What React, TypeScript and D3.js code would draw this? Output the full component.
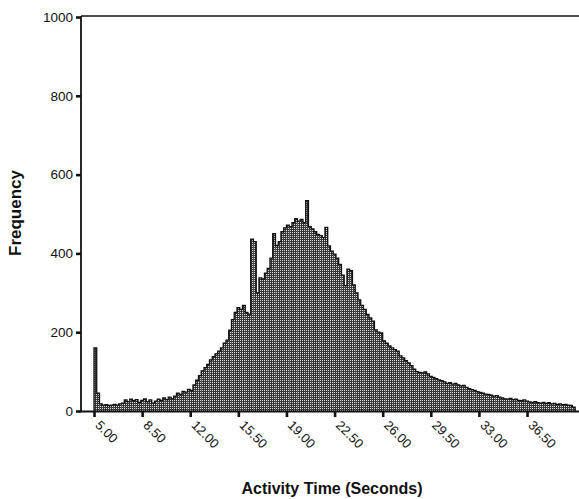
import { useEffect, useRef } from "react";
import * as d3 from "d3";

// histogram bins: 0.2 s wide, first bin starts at 5.0 s
const binStart = 5.0;
const binWidth = 0.2;
const frequencies = [
  160, 45, 18, 15, 16, 14, 15, 17, 15, 18,
  20, 28, 24, 30, 26, 29, 22, 27, 31, 24,
  28, 20, 25, 30, 27, 33, 29, 35, 31, 38,
  45, 42, 50, 48, 55, 52, 66, 78, 90, 102,
  110, 118, 130, 138, 145, 152, 160, 172, 180, 205,
  232, 250, 262, 258, 268, 250, 246, 436, 430, 300,
  338, 335, 350, 362, 388, 450, 420, 430, 455, 465,
  472, 468, 478, 488, 482, 486, 478, 534, 468, 462,
  455, 448, 445, 440, 466, 419, 406, 398, 388, 372,
  345, 318, 360, 356, 320, 300, 282, 268, 258, 245,
  236, 228, 206, 200, 198, 178, 172, 165, 160, 156,
  152, 140, 135, 128, 122, 115, 106, 100, 98, 97,
  99, 94, 88, 85, 82, 79, 77, 74, 70, 72,
  68, 70, 66, 64, 65, 60, 57, 54, 52, 49,
  47, 45, 43, 42, 40, 38, 39, 35, 33, 31,
  30, 32, 29, 30, 27, 26, 28, 25, 23, 22,
  24, 21, 20, 22, 19, 21, 18, 19, 17, 18,
  16, 17, 15, 14, 10,
];
const xTicks = [5.0, 8.5, 12.0, 15.5, 19.0, 22.5, 26.0, 29.5, 33.0, 36.5];
const yTicks = [0, 200, 400, 600, 800, 1000];

const W = 579;
const H = 499;
const FONT = "'Liberation Sans', Arial, sans-serif";

export default function App() {
  const svgRef = useRef<SVGSVGElement>(null);

  useEffect(() => {
    const svg = svgRef.current;
    if (!svg) return;
    const sel = d3.select(svg);
    sel.selectAll("*").remove();

    const left = 81;
    const top = 17;
    const bottom = 411;

    const x = d3.scaleLinear().domain([4.054, 40.28]).range([left, W]);
    const y = d3.scaleLinear().domain([0, 1000]).range([bottom, top]);

    const bins = frequencies.map((f, i) => ({
      x0: binStart + i * binWidth,
      x1: binStart + (i + 1) * binWidth,
      f,
    }));

    // halftone-ish fill
    const defs = sel.append("defs");
    const pat = defs
      .append("pattern")
      .attr("id", "stipple")
      .attr("width", 2)
      .attr("height", 2)
      .attr("patternUnits", "userSpaceOnUse");
    pat.append("rect").attr("width", 2).attr("height", 2).attr("fill", "#333");
    pat.append("rect").attr("width", 1).attr("height", 1).attr("fill", "#dcdcdc");

    // bars
    sel
      .append("g")
      .selectAll("rect")
      .data(bins)
      .enter()
      .append("rect")
      .attr("x", (d) => x(d.x0))
      .attr("width", (d) => x(d.x1) - x(d.x0) + 0.2)
      .attr("y", (d) => y(d.f))
      .attr("height", (d) => y(0) - y(d.f))
      .attr("fill", "url(#stipple)");

    // ragged outline of the bar tops
    const outline = d3
      .line<{ x0: number; x1: number; f: number }>()
      .x((d) => x(d.x0))
      .y((d) => y(d.f))
      .curve(d3.curveStepAfter);
    const last = bins[bins.length - 1];
    sel.append("path")
      .datum([{ x0: binStart, x1: binStart, f: 0 }, ...bins, { x0: last.x1, x1: last.x1, f: 0 }])
      .attr("d", outline)
      .attr("fill", "none")
      .attr("stroke", "#111")
      .attr("stroke-width", 1.3);

    // frame: top and left, bottom axis
    sel.append("line")
      .attr("x1", left).attr("x2", W).attr("y1", top - 1).attr("y2", top - 1)
      .attr("stroke", "#111").attr("stroke-width", 1.6);
    sel.append("line")
      .attr("x1", left).attr("x2", left).attr("y1", top - 1).attr("y2", bottom + 1)
      .attr("stroke", "#111").attr("stroke-width", 1.8);
    sel.append("line")
      .attr("x1", left).attr("x2", W).attr("y1", bottom + 0.5).attr("y2", bottom + 0.5)
      .attr("stroke", "#111").attr("stroke-width", 1.8);

    // Y axis
    const yAxis = d3
      .axisLeft(y)
      .tickValues(yTicks)
      .tickSize(5)
      .tickPadding(3)
      .tickFormat(d3.format("d"));
    const gy = sel.append("g").attr("transform", `translate(${left},0)`).call(yAxis);
    gy.select(".domain").remove();
    gy.selectAll(".tick line").attr("stroke", "#111").attr("stroke-width", 2.6);
    gy.selectAll(".tick text")
      .attr("font-family", FONT)
      .attr("font-size", 13.5)
      .attr("fill", "#111");

    // X axis
    const xAxis = d3
      .axisBottom(x)
      .tickValues(xTicks)
      .tickSize(6)
      .tickFormat(d3.format(".2f"));
    const gx = sel.append("g").attr("transform", `translate(0,${bottom})`).call(xAxis);
    gx.select(".domain").remove();
    gx.selectAll(".tick line").attr("stroke", "#111").attr("stroke-width", 2.6);
    gx.selectAll(".tick text")
      .attr("font-family", FONT)
      .attr("font-size", 13)
      .attr("fill", "#111")
      .attr("text-anchor", "start")
      .attr("y", 0)
      .attr("dy", 0)
      .attr("transform", "translate(0,15) rotate(45)");

    // axis titles
    sel.append("text")
      .attr("transform", "translate(21,213) rotate(-90)")
      .attr("text-anchor", "middle")
      .attr("font-family", FONT)
      .attr("font-size", 17)
      .attr("font-weight", "bold")
      .attr("fill", "#111")
      .text("Frequency");

    sel.append("text")
      .attr("x", 332)
      .attr("y", 494)
      .attr("text-anchor", "middle")
      .attr("font-family", FONT)
      .attr("font-size", 16)
      .attr("font-weight", "bold")
      .attr("fill", "#111")
      .text("Activity Time (Seconds)");
  }, []);

  return (
    <svg
      ref={svgRef}
      width={W}
      height={H}
      style={{ position: "fixed", left: 0, top: 0, background: "#fff" }}
    />
  );
}
